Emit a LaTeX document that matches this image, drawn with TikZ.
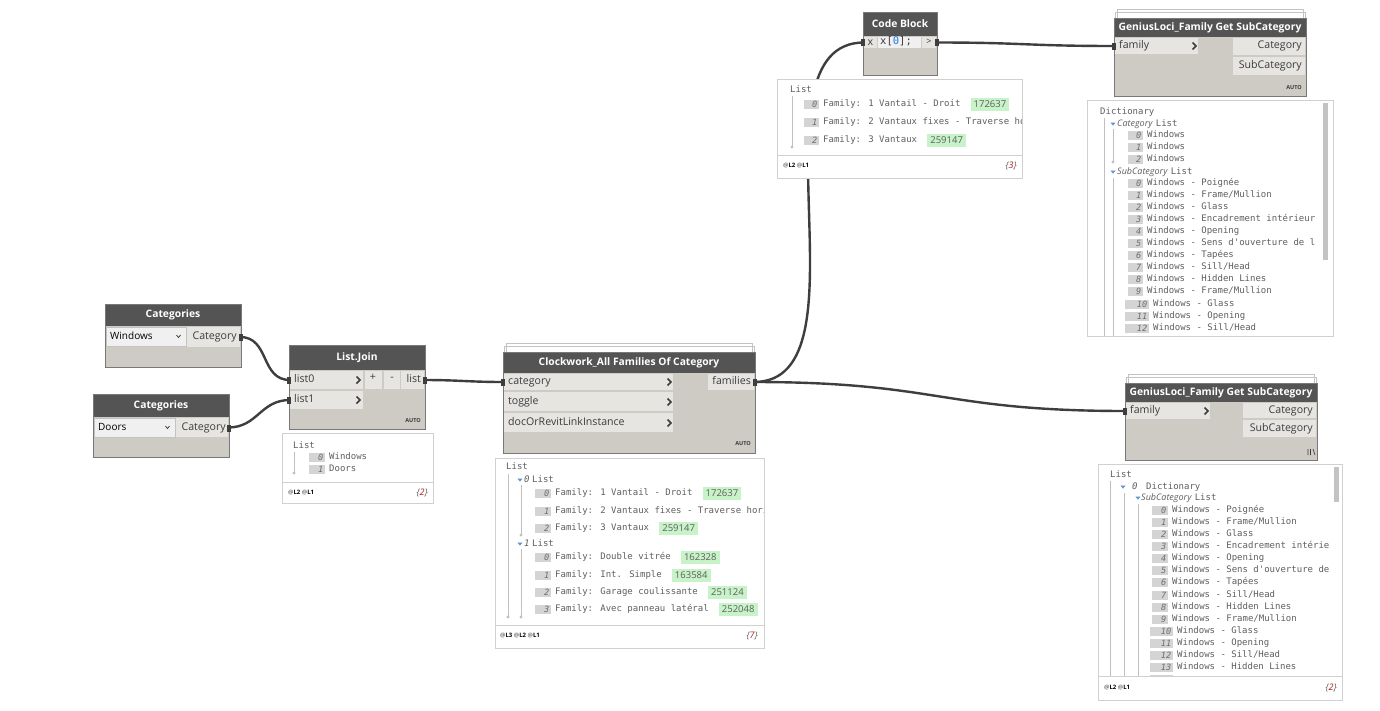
\documentclass[tikz,border=0pt]{standalone}
\usepackage{fontspec}
\setmainfont{Open Sans}
\newfontfamily\pvf{DejaVu Sans Mono}
\usetikzlibrary{fit}
\definecolor{hdr}{RGB}{84,84,84}
\definecolor{bodyc}{RGB}{206,202,196}
\definecolor{portc}{RGB}{231,229,226}
\definecolor{ddc}{RGB}{240,240,240}
\definecolor{nodeborder}{RGB}{120,120,120}
\definecolor{wirec}{RGB}{62,62,62}
\definecolor{pvborder}{RGB}{208,208,208}
\definecolor{pvtext}{RGB}{95,95,95}
\definecolor{idxc}{RGB}{212,212,212}
\definecolor{idxt}{RGB}{110,110,110}
\definecolor{greenc}{RGB}{200,242,200}
\definecolor{treec}{RGB}{192,192,192}
\definecolor{tric}{RGB}{90,150,215}
\definecolor{redc}{RGB}{175,20,20}
\definecolor{plabc}{RGB}{60,60,60}
\definecolor{stackc}{RGB}{195,195,195}
\definecolor{codeblue}{RGB}{40,120,220}
\tikzset{
  x=1pt, y=-1pt,
  rb/.style={inner sep=0pt, outer sep=0pt, rectangle},
  nframe/.style={rb, fill=bodyc},
  hdrbox/.style={rb, fill=hdr},
  portbox/.style={rb, fill=portc},
  ddbox/.style={rb, fill=ddc, draw=stackc, line width=0.6pt},
  ttl/.style={font=\fontsize{10.3}{12}\selectfont\bfseries, text=white, inner sep=0pt},
  plabel/.style={font=\fontsize{10.6}{12}\selectfont, text=plabc, inner sep=0pt, text height=7.5pt, text depth=2pt},
  ddlbl/.style={font=\fontsize{10}{12}\selectfont, text=black, inner sep=0pt, text height=7.5pt, text depth=2pt},
  autolbl/.style={font=\fontsize{5.5}{6}\selectfont\bfseries, text=plabc, inner sep=0pt},
  chev/.style={draw=plabc, line width=1.5pt},
  wire/.style={draw=wirec, line width=2.4pt},
  pvbox/.style={rb, fill=white, draw=pvborder, line width=0.8pt},
  pvtxt/.style={font=\pvf\fontsize{9}{10}\selectfont, text=pvtext, inner sep=0pt, text height=6.5pt, text depth=1.8pt},
  pvital/.style={font=\fontsize{9}{10}\selectfont\itshape, text=pvtext, inner sep=0pt, text height=6.5pt, text depth=1.8pt},
  idxbox/.style={rb, fill=idxc},
  idxnum/.style={font=\pvf\itshape\fontsize{8.6}{9}\selectfont, text=idxt, inner sep=0pt, text height=6pt, text depth=0pt},
  grnbox/.style={rb, fill=greenc, font=\fontsize{9.5}{10}\selectfont, text=pvtext, inner xsep=3pt, minimum height=13pt, text height=7pt, text depth=1pt},
  treeln/.style={draw=treec, line width=1pt},
  footl/.style={font=\fontsize{6}{7}\selectfont\bfseries, text=black, inner sep=0pt},
  footr/.style={font=\fontsize{9}{10}\selectfont\itshape, text=pvtext, inner sep=0pt},
}
\newcommand\rbx[4]{\node[rb,fit={#3 #4},#2] (#1) {};}
\newcommand\chevr[2]{\draw[chev] (#1-2.5,#2-3.5) -- (#1+1,#2) -- (#1-2.5,#2+3.5);}
\newcommand\pinm[2]{\fill[wirec] (#1-1.6,#2-3.5) rectangle (#1+1.6,#2+3.5);}
\newcommand\pvrow[6]{%
  \node[idxbox, fit={(#2,#4-4.5) (#3,#4+4.5)}] (#1) {};
  \node[idxnum, anchor=east] (#1n) at (#3-1.5,#4) {#5};
  \node[pvtxt, anchor=west] (#1t) at (#3+4,#4) {#6};}
\newcommand\grnb[2]{\node[grnbox, anchor=west] (#1g) at ([xshift=10pt]#1t.east) {#2};}
\newcommand\tlnd[3]{\draw[treeln] (#1,#2) -- (#1,#3); \fill[treec] (#1,#3) circle (1.6);}
\newcommand\tln[3]{\draw[treeln] (#1,#2) -- (#1,#3);}
\newcommand\trim[2]{\fill[tric] (#1-2.6,#2-1.5) -- (#1+2.6,#2-1.5) -- (#1,#2+1.6) -- cycle;}
\newcommand\stackl[3]{\draw[stackc, line width=0.8pt] (#1,#3+9) -- (#1,#3) -- (#2,#3) -- (#2,#3+9);
  \draw[stackc, line width=0.8pt] (#1-2,#3+9) -- (#1-2,#3+3) -- (#2+2,#3+3) -- (#2+2,#3+9);}
\newcommand\cnt[3]{\node[footr, anchor=east] at (#1,#2) {\{{\color{redc}#3}\}};}
\begin{document}
\begin{tikzpicture}
\useasboundingbox (0,0) rectangle (1380,710);
\fill[white] (0,0) rectangle (1380,710);

% ---------------- Categories (Windows)
\rbx{c1}{nframe}{(105,304)}{(241,367)}
\rbx{c1h}{hdrbox}{(105,304)}{(241,326)}
\node[ttl] (c1title) at (c1h) {Categories};
\rbx{c1dd}{ddbox}{(106,327)}{(186,346)}
\node[ddlbl, anchor=west] (c1ddt) at (110,336.5) {Windows};
\draw[plabc, line width=0.7pt] (176.5,335) -- (178.5,337.5) -- (180.5,335);
\rbx{c1o}{portbox}{(187,327)}{(240,347)}
\node[plabel, anchor=east] (c1ol) at (237,337) {Category};
\draw[nodeborder, line width=0.8pt] (c1.north west) rectangle (c1.south east);

% ---------------- Categories (Doors)
\rbx{c2}{nframe}{(93,394)}{(229,457)}
\rbx{c2h}{hdrbox}{(93,394)}{(229,417)}
\node[ttl] (c2title) at (c2h) {Categories};
\rbx{c2dd}{ddbox}{(94,418)}{(175,437)}
\node[ddlbl, anchor=west] (c2ddt) at (98,427.5) {Doors};
\draw[plabc, line width=0.7pt] (165.5,426) -- (167.5,428.5) -- (169.5,426);
\rbx{c2o}{portbox}{(176,418)}{(228,437)}
\node[plabel, anchor=east] (c2ol) at (226,428) {Category};
\draw[nodeborder, line width=0.8pt] (c2.north west) rectangle (c2.south east);

% ---------------- List.Join
\rbx{lj}{nframe}{(289,345)}{(425,429)}
\rbx{ljh}{hdrbox}{(289,345)}{(425,370)}
\node[ttl] (ljtitle) at (ljh) {List.Join};
\rbx{lj0}{portbox}{(290,371)}{(363,389)}
\node[plabel, anchor=west] (lj0l) at (294,380) {list0};
\chevr{359}{380}
\rbx{lj1}{portbox}{(290,391)}{(363,409)}
\node[plabel, anchor=west] (lj1l) at (294,400) {list1};
\chevr{359}{400}
\rbx{ljp}{portbox}{(365,371)}{(382,389)}
\node[plabel] (ljpl) at (373,378) {+};
\rbx{ljm}{portbox}{(384,371)}{(400,389)}
\node[plabel] (ljml) at (392,378) {-};
\rbx{ljo}{portbox}{(401,371)}{(424,389)}
\node[plabel, anchor=east] (ljol) at (421,380) {list};
\node[autolbl, anchor=east] (ljauto) at (421,421) {AUTO};
\draw[nodeborder, line width=0.8pt] (lj.north west) rectangle (lj.south east);

% ---------------- Clockwork
\stackl{506}{752}{343}
\rbx{cw}{nframe}{(503,352)}{(755,453)}
\rbx{cwh}{hdrbox}{(503,352)}{(755,373)}
\node[ttl] (cwtitle) at (cwh) {Clockwork\_All Families Of Category};
\rbx{cwi0}{portbox}{(504,374)}{(673,390)}
\node[plabel, anchor=west] (cwi0l) at (508,382) {category};
\chevr{670}{382}
\rbx{cwi1}{portbox}{(504,392)}{(673,411)}
\node[plabel, anchor=west] (cwi1l) at (508,402) {toggle};
\chevr{670}{402}
\rbx{cwi2}{portbox}{(504,413)}{(673,432)}
\node[plabel, anchor=west] (cwi2l) at (508,423) {docOrRevitLinkInstance};
\chevr{670}{423}
\rbx{cwo}{portbox}{(708,374)}{(754,390)}
\node[plabel, anchor=east] (cwol) at (751,382) {families};
\node[autolbl, anchor=east] (cwauto) at (751,444) {AUTO};
\draw[nodeborder, line width=0.8pt] (cw.north west) rectangle (cw.south east);

% ---------------- Code Block
\rbx{cb}{nframe}{(863,12)}{(937,75)}
\rbx{cbh}{hdrbox}{(863,12)}{(937,36)}
\node[ttl] (cbtitle) at (cbh) {Code Block};
\rbx{cbi}{portbox}{(864,37)}{(877,48)}
\node[plabel] (cbil) at (870.5,42.5) {x};
\rbx{cbc}{rb, fill=ddc}{(878,37)}{(921,48)}
\node[pvtxt, font=\pvf\fontsize{10.5}{11}\selectfont, text=plabc, anchor=west] (cbcl) at (880,42.5) {x[{\color{codeblue}0}];};
\rbx{cbo}{portbox}{(922,37)}{(936,48)}
\node[plabel, font=\fontsize{9}{10}\selectfont] (cbol) at (929,42) {>};
\draw[nodeborder, line width=0.8pt] (cb.north west) rectangle (cb.south east);

% ---------------- GeniusLoci (top)
\stackl{1117}{1303}{9}
\rbx{g1}{nframe}{(1114,18)}{(1306,96)}
\rbx{g1h}{hdrbox}{(1114,18)}{(1306,37)}
\node[ttl] (g1title) at (g1h) {GeniusLoci\_Family Get SubCategory};
\rbx{g1i}{portbox}{(1115,38)}{(1198,54)}
\node[plabel, anchor=west] (g1il) at (1119,46) {family};
\chevr{1195}{46}
\rbx{g1o1}{portbox}{(1233,38)}{(1305,55)}
\node[plabel, anchor=east] (g1o1l) at (1302,46) {Category};
\rbx{g1o2}{portbox}{(1233,57)}{(1305,75)}
\node[plabel, anchor=east] (g1o2l) at (1302,66) {SubCategory};
\node[autolbl, anchor=east] (g1auto) at (1302,88) {AUTO};
\draw[nodeborder, line width=0.8pt] (g1.north west) rectangle (g1.south east);

% ---------------- GeniusLoci (bottom)
\stackl{1128}{1314}{374}
\rbx{g2}{nframe}{(1125,383)}{(1317,460)}
\rbx{g2h}{hdrbox}{(1125,383)}{(1317,402)}
\node[ttl] (g2title) at (g2h) {GeniusLoci\_Family Get SubCategory};
\rbx{g2i}{portbox}{(1126,403)}{(1210,419)}
\node[plabel, anchor=west] (g2il) at (1130,411) {family};
\chevr{1207}{411}
\rbx{g2o1}{portbox}{(1243,403)}{(1316,418)}
\node[plabel, anchor=east] (g2o1l) at (1313,411) {Category};
\rbx{g2o2}{portbox}{(1243,420)}{(1316,437)}
\node[plabel, anchor=east] (g2o2l) at (1313,429) {SubCategory};
\draw[plabc, line width=0.6pt] (1308,449) -- (1308,455) (1310.5,449) -- (1310.5,455) (1313,449) -- (1315,455);
\draw[nodeborder, line width=0.8pt] (g2.north west) rectangle (g2.south east);

% ---------------- wires
\draw[wire] (c1o.east) .. controls +(30,0) and +(-30,0) .. (lj0.west);
\draw[wire] (c2o.east) .. controls +(30,0) and +(-30,0) .. (lj1.west);
\draw[wire] (ljo.east) .. controls +(35,0) and +(-35,0) .. (cwi0.west);
\draw[wire] (cwo.east) .. controls +(120,0) and +(-120,0) .. (cbi.west);
\draw[wire] (cwo.east) .. controls +(185,0) and +(-185,0) .. (g2i.west);
\draw[wire] (cbo.east) .. controls +(88,0) and +(-88,0) .. (g1i.west);
\pinm{241}{337} \pinm{229}{428} \pinm{289}{380} \pinm{289}{400} \pinm{425}{380}
\pinm{503}{382} \pinm{755}{382} \pinm{863}{42.5} \pinm{937}{42.5} \pinm{1114}{46} \pinm{1125}{411}

% ---------------- Preview: List.Join
\rbx{p1}{pvbox}{(282,433)}{(433,503)}
\draw[pvborder, line width=0.8pt] (282,482) -- (433,482);
\node[pvtxt, anchor=west] (p1h) at (293,446) {List};
\tlnd{294}{452}{473}
\pvrow{p1a}{309}{325}{457}{0}{Windows}
\pvrow{p1b}{309}{325}{469}{1}{Doors}
\node[footl, anchor=west] (p1f) at (288,493) {{\color{gray}@}L2 {\color{gray}@}L1};
\cnt{428}{493}{2}

% ---------------- Preview: Clockwork
\rbx{p2}{pvbox}{(495,458)}{(764,648)}
\draw[pvborder, line width=0.8pt] (495,625) -- (764,625);
\begin{scope}
\clip (496,459) rectangle (763,624);
\node[pvtxt, anchor=west] (p2h) at (506,467) {List};
\tlnd{508}{474}{617}
\trim{520}{480}
\node[pvtxt, font=\pvf\itshape\fontsize{9}{10}\selectfont, anchor=west] (p2l0i) at (524,480) {0};
\node[pvtxt, anchor=west] (p2l0) at (532,480) {List};
\tlnd{521}{485}{535}
\pvrow{p2a}{535}{551}{493}{0}{Family: 1 Vantail - Droit}\grnb{p2a}{172637}
\pvrow{p2b}{535}{551}{511}{1}{Family: 2 Vantaux fixes - Traverse hori}
\pvrow{p2c}{535}{551}{528}{2}{Family: 3 Vantaux}\grnb{p2c}{259147}
\trim{520}{544}
\node[pvtxt, font=\pvf\itshape\fontsize{9}{10}\selectfont, anchor=west] (p2l1i) at (524,544) {1};
\node[pvtxt, anchor=west] (p2l1) at (532,544) {List};
\tlnd{521}{549}{617}
\pvrow{p2d}{535}{551}{557}{0}{Family: Double vitrée}\grnb{p2d}{162328}
\pvrow{p2e}{535}{551}{575}{1}{Family: Int. Simple}\grnb{p2e}{163584}
\pvrow{p2f}{535}{551}{592}{2}{Family: Garage coulissante}\grnb{p2f}{251124}
\pvrow{p2g}{535}{551}{609}{3}{Family: Avec panneau latéral}\grnb{p2g}{252048}
\end{scope}
\node[footl, anchor=west] (p2f) at (500,636) {{\color{gray}@}L3 {\color{gray}@}L2 {\color{gray}@}L1};
\cnt{758}{636}{7}

% ---------------- Preview: Code Block
\rbx{p3}{pvbox}{(777,79)}{(1022,178)}
\draw[pvborder, line width=0.8pt] (777,155) -- (1022,155);
\begin{scope}
\clip (778,80) rectangle (1021,154);
\node[pvtxt, anchor=west] (p3h) at (790,90) {List};
\tlnd{792}{96}{147}
\pvrow{p3a}{804}{819}{104}{0}{Family: 1 Vantail - Droit}\grnb{p3a}{172637}
\pvrow{p3b}{804}{819}{122}{1}{Family: 2 Vantaux fixes - Traverse ho}
\pvrow{p3c}{804}{819}{140}{2}{Family: 3 Vantaux}\grnb{p3c}{259147}
\end{scope}
\node[footl, anchor=west] (p3f) at (783,166) {{\color{gray}@}L2 {\color{gray}@}L1};
\cnt{1017}{166}{3}

% ---------------- Preview: GeniusLoci (top)
\rbx{p4}{pvbox}{(1087,100)}{(1333,336)}
\fill[stackc] (1322.5,103) rectangle (1328,260);
\begin{scope}
\clip (1088,101) rectangle (1319,335);
\node[pvtxt, anchor=west] (p4h) at (1100,112) {Dictionary};
\tln{1104}{118}{336}
\trim{1113}{124}
\node[pvital, anchor=west] (p4c) at (1117,124) {Category};
\node[pvtxt, anchor=west] (p4cl) at ([xshift=3pt]p4c.east) {List};
\tlnd{1113}{129}{162}
\pvrow{p4a}{1128}{1143}{135}{0}{Windows}
\pvrow{p4b}{1128}{1143}{147}{1}{Windows}
\pvrow{p4c}{1128}{1143}{159}{2}{Windows}
\trim{1113}{172}
\node[pvital, anchor=west] (p4s) at (1117,172) {SubCategory};
\node[pvtxt, anchor=west] (p4sl) at ([xshift=3pt]p4s.east) {List};
\tln{1113}{178}{336}
\pvrow{p4s0}{1128}{1143}{183}{0}{Windows - Poignée}
\pvrow{p4s1}{1128}{1143}{195}{1}{Windows - Frame/Mullion}
\pvrow{p4s2}{1128}{1143}{207}{2}{Windows - Glass}
\pvrow{p4s3}{1128}{1143}{219}{3}{Windows - Encadrement intérieur}
\pvrow{p4s4}{1128}{1143}{231}{4}{Windows - Opening}
\pvrow{p4s5}{1128}{1143}{243}{5}{Windows - Sens d'ouverture de l}
\pvrow{p4s6}{1128}{1143}{255}{6}{Windows - Tapées}
\pvrow{p4s7}{1128}{1143}{267}{7}{Windows - Sill/Head}
\pvrow{p4s8}{1128}{1143}{279}{8}{Windows - Hidden Lines}
\pvrow{p4s9}{1128}{1143}{291}{9}{Windows - Frame/Mullion}
\pvrow{p4s10}{1125}{1149}{304}{10}{Windows - Glass}
\pvrow{p4s11}{1125}{1149}{316}{11}{Windows - Opening}
\pvrow{p4s12}{1125}{1149}{328}{12}{Windows - Sill/Head}
\end{scope}

% ---------------- Preview: GeniusLoci (bottom)
\rbx{p5}{pvbox}{(1098,464)}{(1342,700)}
\draw[pvborder, line width=0.8pt] (1098,676) -- (1342,676);
\fill[stackc] (1333.5,467) rectangle (1338.5,502);
\begin{scope}
\clip (1099,465) rectangle (1331,675.5);
\node[pvtxt, anchor=west] (p5h) at (1110,475) {List};
\tln{1110}{481}{676}
\trim{1123}{487}
\node[pvtxt, font=\pvf\itshape\fontsize{9}{10}\selectfont, anchor=west] (p5di) at (1132,487) {0};
\node[pvtxt, anchor=west] (p5d) at (1146,487) {Dictionary};
\tln{1124}{493}{676}
\trim{1138}{498}
\node[pvital, anchor=west] (p5s) at (1141,498) {SubCategory};
\node[pvtxt, anchor=west] (p5sl) at ([xshift=3pt]p5s.east) {List};
\tln{1138}{504}{676}
\pvrow{p5s0}{1152}{1168}{510}{0}{Windows - Poignée}
\pvrow{p5s1}{1152}{1168}{522}{1}{Windows - Frame/Mullion}
\pvrow{p5s2}{1152}{1168}{534}{2}{Windows - Glass}
\pvrow{p5s3}{1152}{1168}{546}{3}{Windows - Encadrement intérie}
\pvrow{p5s4}{1152}{1168}{558}{4}{Windows - Opening}
\pvrow{p5s5}{1152}{1168}{570}{5}{Windows - Sens d'ouverture de}
\pvrow{p5s6}{1152}{1168}{582}{6}{Windows - Tapées}
\pvrow{p5s7}{1152}{1168}{595}{7}{Windows - Sill/Head}
\pvrow{p5s8}{1152}{1168}{607}{8}{Windows - Hidden Lines}
\pvrow{p5s9}{1152}{1168}{619}{9}{Windows - Frame/Mullion}
\pvrow{p5s10}{1150}{1173}{631}{10}{Windows - Glass}
\pvrow{p5s11}{1150}{1173}{643}{11}{Windows - Opening}
\pvrow{p5s12}{1150}{1173}{655}{12}{Windows - Sill/Head}
\pvrow{p5s13}{1150}{1173}{667}{13}{Windows - Hidden Lines}
\node[idxbox, fit={(1150,675) (1173,683)}] (p5s14) {};
\end{scope}
\node[footl, anchor=west] (p5f) at (1104,688) {{\color{gray}@}L2 {\color{gray}@}L1};
\cnt{1337}{688}{2}
\end{tikzpicture}
\end{document}
